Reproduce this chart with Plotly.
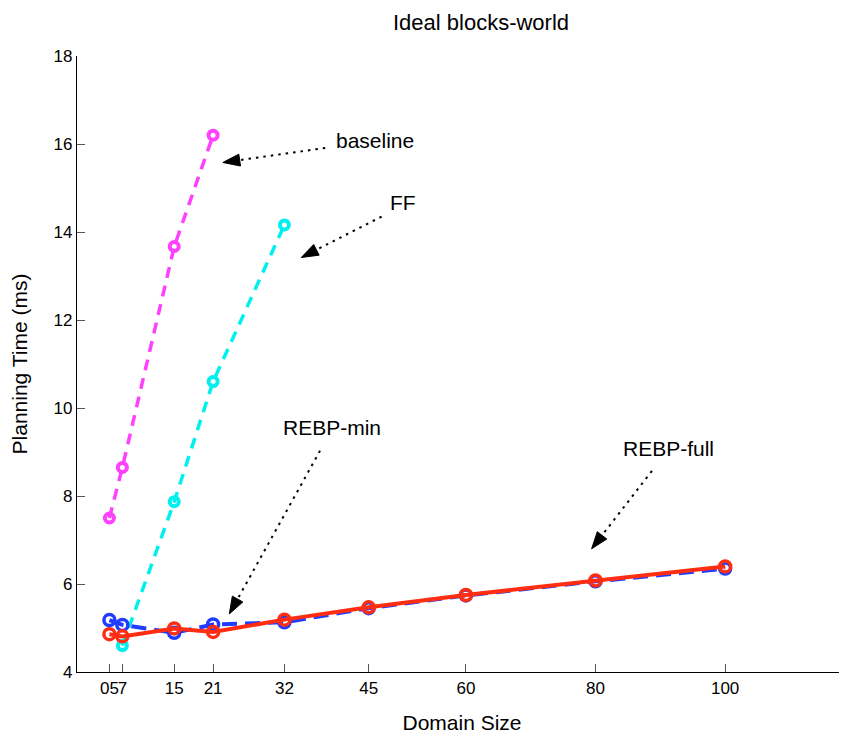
import plotly.graph_objects as go
import math

# ---- data ----
x_baseline = [5, 7, 15, 21]
y_baseline = [7.50, 8.65, 13.67, 16.20]

x_ff = [7, 15, 21, 32]
y_ff = [4.60, 7.87, 10.60, 14.16]

x_rebp = [5, 7, 15, 21, 32, 45, 60, 80, 100]
y_rebp_min = [5.18, 5.07, 4.89, 5.08, 5.13, 5.45, 5.74, 6.06, 6.35]
y_rebp_full = [4.86, 4.81, 4.99, 4.91, 5.19, 5.47, 5.75, 6.08, 6.40]

tick_vals = [5, 7, 15, 21, 32, 45, 60, 80, 100]
tick_text = ["05", "7", "15", "21", "32", "45", "60", "80", "100"]

# annotation labels: (text, text_x, text_y, tail_x, tail_y, tip_x, tip_y)
labels = [
    ("baseline", 45.9, 16.07, 38.3, 15.91, 22.5, 15.58),
    ("FF", 50.3, 14.66, 47.0, 14.35, 34.6, 13.42),
    ("REBP-min", 39.3, 9.55, 37.5, 9.03, 23.5, 5.32),
    ("REBP-full", 91.2, 9.08, 88.7, 8.57, 79.4, 6.80),
]

# ---- layout constants (page body has an 8px margin) ----
OFF = 8
W, H = 847 - OFF, 738 - OFF
ML, MR, MT, MB = 77 - OFF, 0, 56 - OFF, 66
XR = [0, 118.8]
YR = [4, 18]
sx = (W - ML - MR) / (XR[1] - XR[0])
sy = (H - MT - MB) / (YR[1] - YR[0])
FONT = "Liberation Sans, Arial, sans-serif"

fig = go.Figure()

fig.add_trace(go.Scatter(
    x=x_baseline, y=y_baseline, mode="lines+markers", name="baseline",
    line=dict(color="#ff40ff", width=3.5, dash="11px,8px"),
    marker=dict(symbol="circle-open", size=9, color="#ff40ff", line=dict(width=4, color="#ff40ff")),
))
fig.add_trace(go.Scatter(
    x=x_ff, y=y_ff, mode="lines+markers", name="FF",
    line=dict(color="#00f0f0", width=3.5, dash="11px,8px"),
    marker=dict(symbol="circle-open", size=9, color="#00f0f0", line=dict(width=4, color="#00f0f0")),
))
fig.add_trace(go.Scatter(
    x=x_rebp, y=y_rebp_min, mode="lines+markers", name="REBP-min",
    line=dict(color="#1f3cff", width=4, dash="15px,8px"),
    marker=dict(symbol="circle-open", size=11, color="#1f3cff", line=dict(width=3.5, color="#1f3cff")),
))
fig.add_trace(go.Scatter(
    x=x_rebp, y=y_rebp_full, mode="lines+markers", name="REBP-full",
    line=dict(color="#ff2d12", width=4),
    marker=dict(symbol="circle-open", size=11, color="#ff2d12", line=dict(width=3.5, color="#ff2d12")),
))

shapes = []
annotations = []
for text, tx, ty, x0, y0, x1, y1 in labels:
    dxp = (x1 - x0) * sx
    dyp = -(y1 - y0) * sy
    n = math.hypot(dxp, dyp)
    ux, uy = dxp / n, dyp / n
    L, Wh = 17, 6
    bx, by = -L * ux, -L * uy
    px, py = -uy, ux
    pts = [(0, 0), (bx + Wh * px, by + Wh * py), (bx - Wh * px, by - Wh * py)]
    path = "M " + " L ".join(f"{x1 + a / sx},{y1 - b / sy}" for a, b in pts) + " Z"
    shapes.append(dict(type="line", xref="x", yref="y",
                       x0=x0, y0=y0, x1=x1 - (L - 2) * ux / sx, y1=y1 + (L - 2) * uy / sy,
                       line=dict(color="black", width=2, dash="2.5px,5px")))
    shapes.append(dict(type="path", xref="x", yref="y", path=path,
                       fillcolor="black", line=dict(color="black", width=1)))
    annotations.append(dict(x=tx, y=ty, xref="x", yref="y", text=text, showarrow=False,
                            font=dict(size=21, color="black", family=FONT)))

fig.update_layout(
    width=W, height=H,
    margin=dict(l=ML, r=MR, t=MT, b=MB, autoexpand=False),
    paper_bgcolor="white", plot_bgcolor="white",
    showlegend=False,
    font=dict(family=FONT, color="black"),
    title=dict(text="Ideal blocks-world", x=(481 - OFF) / W, xanchor="center", y=1 - (22 - OFF) / H,
               yanchor="middle", font=dict(size=22, color="black")),
    shapes=shapes,
    annotations=annotations,
    xaxis=dict(range=XR, tickvals=tick_vals, ticktext=tick_text, tickangle=0, ticks="inside", ticklen=8,
               tickcolor="#555", showline=True, linecolor="black", linewidth=1.2, showgrid=False,
               zeroline=False, tickfont=dict(size=17, color="black"), automargin=False,
               title=dict(text="Domain Size", font=dict(size=21, color="black"), standoff=18)),
    yaxis=dict(range=YR, dtick=2, ticks="inside", ticklen=8, tickcolor="#555",
               showline=True, linecolor="black", linewidth=1.2, showgrid=False, zeroline=False,
               tickfont=dict(size=17, color="black"), automargin=False,
               title=dict(text="Planning Time (ms)", font=dict(size=21, color="black"), standoff=20)),
)

fig.write_html("out.html")
